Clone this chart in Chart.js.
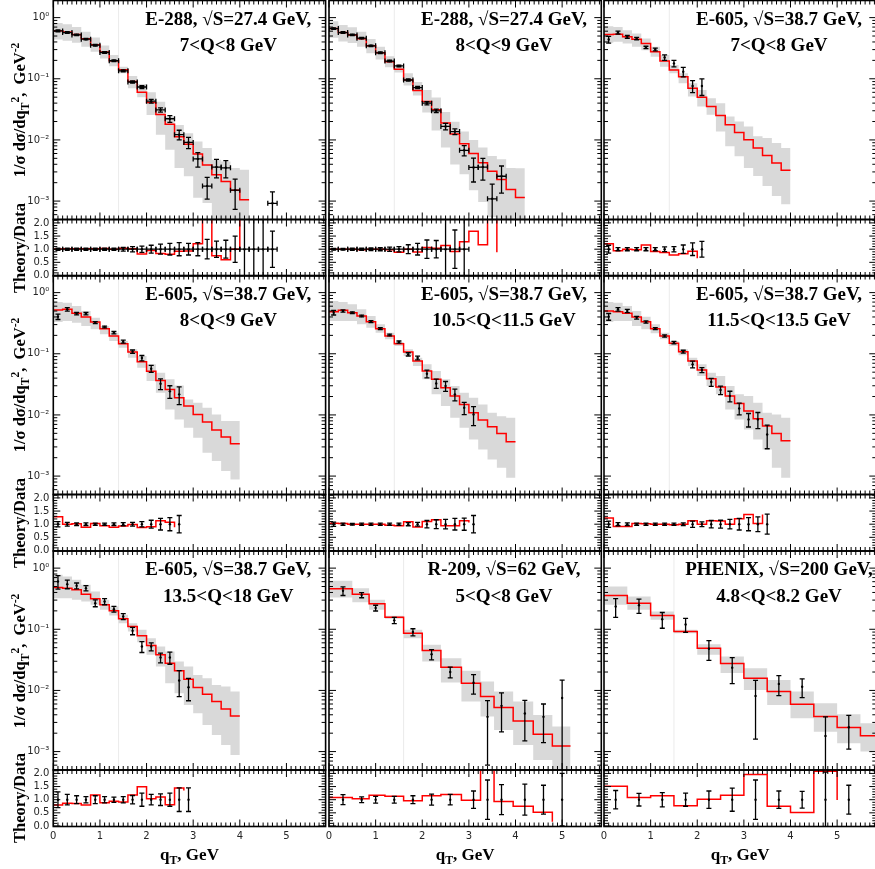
<!DOCTYPE html>
<html>
<head>
<meta charset="utf-8">
<script src="https://cdn.jsdelivr.net/npm/chart.js@4.4.1/dist/chart.umd.min.js"></script>
<style>
  html, body { margin: 0; padding: 0; background: #fff; overflow: hidden; }
  #fig { position: relative; width: 875px; height: 869px; overflow: hidden; }
  #fig canvas { position: absolute; }
  .lbl { position: absolute; font-family: "Liberation Serif", "DejaVu Serif", serif; font-weight: bold; color: #000; white-space: nowrap; }
  .ptitle { width: 300px; text-align: center; font-size: 19px; line-height: 26.7px; }
  .ytitle { font-size: 16.5px; line-height: 18px; transform: translate(-50%, -50%) rotate(-90deg); }
  .xtitle { font-size: 17px; line-height: 17px; transform: translateX(-50%); }
  .lbl sub, .lbl sup { font-size: 70%; line-height: 0; }
</style>
</head>
<body>
<div id="fig"></div>
<script>
// ---------- data ----------
const panelTitleTop = ["E-288, √S=27.4 GeV,", "E-288, √S=27.4 GeV,", "E-605, √S=38.7 GeV,",
  "E-605, √S=38.7 GeV,", "E-605, √S=38.7 GeV,", "E-605, √S=38.7 GeV,",
  "E-605, √S=38.7 GeV,", "R-209, √S=62 GeV,", "PHENIX, √S=200 GeV,"];
const panelTitleBottom = ["7<Q<8 GeV", "8<Q<9 GeV", "7<Q<8 GeV", "8<Q<9 GeV", "10.5<Q<11.5 GeV",
  "11.5<Q<13.5 GeV", "13.5<Q<18 GeV", "5<Q<8 GeV", "4.8<Q<8.2 GeV"];
const seamQ = [1.4, 1.4, 1.4, 1.4, 1.4, 1.4, 1.4, 1.6, 1.5];

const yLogTicks = [0.001, 0.01, 0.1, 1];
const yLogLabels = ["10⁻³", "10⁻²", "10⁻¹", "10⁰"];
const ratioTicks = [0, 0.5, 1, 1.5, 2];
const ratioLabels = ["0.0", "0.5", "1.0", "1.5", "2.0"];
const qTicks = [0, 1, 2, 3, 4, 5];

// theory bin edges
const e288Edges = [0, 0.2, 0.4, 0.6, 0.8, 1.0, 1.2, 1.4, 1.6, 1.8, 2.0, 2.2, 2.4, 2.6, 2.8, 3.0, 3.2, 3.4, 3.6, 3.8, 4.0, 4.2];
const e605Edges = [0, 0.2, 0.4, 0.6, 0.8, 1.0, 1.2, 1.4, 1.6, 1.8, 2.0, 2.2, 2.4, 2.6, 2.8, 3.0, 3.2, 3.4, 3.6, 3.8, 4.0];
const r209Edges = [0, 0.5, 0.86, 1.2, 1.6, 2.0, 2.4, 2.84, 3.25, 3.54, 3.95, 4.38, 4.79, 5.18];
const phenixEdges = [0, 0.5, 1.0, 1.5, 2.0, 2.5, 3.0, 3.5, 4.0, 4.5, 5.0, 5.5, 6.0];

// E-288, 7<Q<8
const e288aTheory = [0.61, 0.58, 0.53, 0.45, 0.36, 0.275, 0.197, 0.14, 0.09, 0.06, 0.041, 0.026, 0.018, 0.0113, 0.0085, 0.0059, 0.0039, 0.0027, 0.0021, 0.0015, 0.00105];
const e288aBandHi = [0.819, 0.779, 0.705, 0.585, 0.473, 0.35, 0.244, 0.158, 0.1107, 0.082, 0.06, 0.0423, 0.0241, 0.0176, 0.0129, 0.00944, 0.00735, 0.00474, 0.00446, 0.00347, 0.00326];
const e288aBandLo = [0.438, 0.417, 0.387, 0.333, 0.276, 0.215, 0.161, 0.123, 0.0697, 0.0497, 0.0256, 0.0121, 0.0069, 0.00347, 0.00254, 0.00113, 0.00093, 0.0005, 0.0004, 0.0003, 0.0002];
const e288aQ = [0.1, 0.3, 0.5, 0.7, 0.9, 1.1, 1.3, 1.5, 1.7, 1.9, 2.1, 2.3, 2.5, 2.7, 2.9, 3.1, 3.3, 3.5, 3.7, 3.9, 4.1, 4.3, 4.5, 4.7];
const e288aVal = [0.607, 0.57, 0.522, 0.444, 0.354, 0.269, 0.197, 0.135, 0.0886, 0.0734, 0.043, 0.031, 0.0222, 0.0122, 0.0091, 0.0049, 0.00176, 0.0036, 0.0035, 0.00151, 0.0002, 0.0002, 0.0002, 0.00092];
const e288aErr = [0.02, 0.018, 0.015, 0.013, 0.011, 0.008, 0.006, 0.005, 0.004, 0.004, 0.003, 0.0025, 0.0028, 0.0022, 0.0019, 0.0013, 0.00068, 0.0012, 0.0011, 0.00078, 0.00025, 0.00025, 0.00025, 0.0005];
const e288aRatioErr = [0.04, 0.04, 0.04, 0.04, 0.04, 0.04, 0.04, 0.07, 0.1, 0.12, 0.15, 0.19, 0.22, 0.25, 0.22, 0.25, 0.37, 0.31, 0.34, 0.5, 1.4, 1.4, 1.4, 0.69];

// E-288, 8<Q<9
const e288bTheory = [0.662, 0.570, 0.522, 0.450, 0.346, 0.266, 0.190, 0.1426, 0.0955, 0.0641, 0.0425, 0.0311, 0.0189, 0.0125, 0.00869, 0.00598, 0.00422, 0.00308, 0.00226, 0.00155, 0.00114];
const e288bBandHi = [0.873, 0.76, 0.696, 0.585, 0.446, 0.335, 0.234, 0.16, 0.123, 0.0885, 0.0658, 0.0493, 0.0286, 0.0198, 0.0138, 0.00995, 0.0075, 0.00548, 0.00484, 0.00347, 0.00345];
const e288bBandLo = [0.468, 0.408, 0.383, 0.333, 0.262, 0.207, 0.154, 0.127, 0.0776, 0.0533, 0.0281, 0.0142, 0.00752, 0.00395, 0.00275, 0.0015, 0.00097, 0.00055, 0.00028, 0.00016, 0.00011];
const e288bQ = [0.1, 0.3, 0.5, 0.7, 0.9, 1.1, 1.3, 1.5, 1.7, 1.9, 2.1, 2.3, 2.5, 2.7, 2.9, 3.1, 3.3, 3.5, 3.7];
const e288bVal = [0.662, 0.570, 0.522, 0.461, 0.346, 0.266, 0.195, 0.162, 0.0955, 0.0718, 0.0399, 0.0299, 0.0166, 0.0137, 0.00677, 0.00355, 0.0036, 0.00109, 0.00255];
const e288bErr = [0.02, 0.017, 0.015, 0.013, 0.01, 0.008, 0.006, 0.005, 0.004, 0.003, 0.0025, 0.002, 0.002, 0.0015, 0.0013, 0.0015, 0.0014, 0.0008, 0.0012];
const e288bRatioErr = [0.03, 0.03, 0.04, 0.04, 0.05, 0.06, 0.08, 0.1, 0.17, 0.22, 0.35, 0.33, 1.3, 0.73, 1.2];

// E-605, 7<Q<8
const e605aTheory = [0.529, 0.535, 0.485, 0.444, 0.3776, 0.2763, 0.1949, 0.139, 0.1083, 0.07, 0.0499, 0.0352, 0.0251, 0.0177, 0.01329, 0.0101, 0.0074, 0.00555, 0.00421, 0.0032];
const e605aBandHi = [0.723, 0.705, 0.622, 0.549, 0.455, 0.333, 0.2438, 0.1677, 0.1227, 0.0844, 0.0657, 0.0481, 0.0399, 0.0242, 0.0201, 0.01664, 0.01144, 0.01075, 0.00891, 0.0074];
const e605aBandLo = [0.387, 0.402, 0.378, 0.333, 0.294, 0.229, 0.1575, 0.1227, 0.0844, 0.0512, 0.0352, 0.0258, 0.0138, 0.00787, 0.00541, 0.00349, 0.00256, 0.00176, 0.00121, 0.000885];
const e605aQ = [0.1, 0.3, 0.5, 0.7, 0.9, 1.1, 1.3, 1.5, 1.7, 1.9, 2.1];
const e605aVal = [0.439, 0.570, 0.485, 0.455, 0.325, 0.3015, 0.2235, 0.1785, 0.1306, 0.0763, 0.0763];
const e605aErr = [0.055, 0.03, 0.025, 0.02, 0.015, 0.015, 0.023, 0.022, 0.023, 0.017, 0.023];
const e605aRatioErr = [0.15, 0.06, 0.06, 0.06, 0.06, 0.06, 0.09, 0.1, 0.16, 0.24, 0.3];

// E-605, 8<Q<9
const e605bTheory = [0.5203, 0.534, 0.4588, 0.3997, 0.3311, 0.2575, 0.1953, 0.1463, 0.1069, 0.0743, 0.0516, 0.0367, 0.02617, 0.01912, 0.01397, 0.0102, 0.00764, 0.00565, 0.00434, 0.00338];
const e605bBandHi = [0.7035, 0.686, 0.605, 0.501, 0.39, 0.2847, 0.2215, 0.1618, 0.1182, 0.0919, 0.0671, 0.049, 0.0382, 0.0302, 0.01795, 0.01584, 0.0131, 0.0102, 0.00794, 0.00794];
const e605bBandLo = [0.331, 0.344, 0.323, 0.2847, 0.2511, 0.208, 0.1618, 0.1259, 0.0864, 0.0592, 0.0358, 0.0231, 0.01232, 0.00845, 0.00617, 0.00423, 0.0024, 0.00176, 0.00121, 0.00088];
const e605bQ = [0.1, 0.3, 0.5, 0.7, 0.9, 1.1, 1.3, 1.5, 1.7, 1.9, 2.1, 2.3, 2.5, 2.7];
const e605bVal = [0.4046, 0.5336, 0.453, 0.453, 0.323, 0.2742, 0.2215, 0.1578, 0.1082, 0.0852, 0.057, 0.0324, 0.0243, 0.0217];
const e605bErr = [0.041, 0.035, 0.02, 0.02, 0.012, 0.01, 0.01, 0.009, 0.007, 0.0085, 0.0075, 0.0065, 0.0057, 0.007];
const e605bRatioErr = [0.1, 0.07, 0.05, 0.05, 0.04, 0.04, 0.05, 0.06, 0.07, 0.1, 0.15, 0.22, 0.25, 0.33];

// E-605, 10.5<Q<11.5
const e605cTheory = [0.4887, 0.514, 0.4707, 0.415, 0.3352, 0.2575, 0.1953, 0.1463, 0.1069, 0.0761, 0.0522, 0.0382, 0.0279, 0.0204, 0.01487, 0.01086, 0.00824, 0.00641, 0.00499, 0.00364];
const e605cBandHi = [0.7306, 0.7035, 0.6442, 0.5336, 0.415, 0.3032, 0.2215, 0.1558, 0.1182, 0.0864, 0.0671, 0.0522, 0.0382, 0.0297, 0.0231, 0.01912, 0.01487, 0.01086, 0.0095, 0.009];
const e605cBandLo = [0.3438, 0.3438, 0.3438, 0.3032, 0.2674, 0.2215, 0.1722, 0.134, 0.0919, 0.0631, 0.0382, 0.0217, 0.01397, 0.009, 0.00617, 0.00398, 0.00273, 0.00187, 0.00137, 0.000938];
const e605cQ = [0.1, 0.3, 0.5, 0.7, 0.9, 1.1, 1.3, 1.5, 1.7, 1.9, 2.1, 2.3, 2.5, 2.7, 2.9, 3.1];
const e605cVal = [0.4707, 0.501, 0.4707, 0.415, 0.3352, 0.2575, 0.2028, 0.1558, 0.0979, 0.0852, 0.0472, 0.0328, 0.0297, 0.0217, 0.0131, 0.0102];
const e605cErr = [0.04, 0.02, 0.015, 0.015, 0.012, 0.009, 0.007, 0.006, 0.006, 0.006, 0.0069, 0.0056, 0.0055, 0.0047, 0.003, 0.0035];
const e605cRatioErr = [0.08, 0.04, 0.03, 0.04, 0.04, 0.04, 0.04, 0.04, 0.06, 0.07, 0.14, 0.17, 0.18, 0.22, 0.23, 0.33];

// E-605, 11.5<Q<13.5
const e605dTheory = [0.501, 0.4887, 0.4588, 0.3997, 0.3352, 0.2575, 0.1953, 0.1482, 0.1082, 0.0761, 0.0542, 0.0391, 0.0286, 0.0204, 0.01545, 0.01157, 0.00867, 0.00659, 0.00499, 0.00378];
const e605dBandHi = [0.7035, 0.686, 0.605, 0.501, 0.4046, 0.3032, 0.2215, 0.1618, 0.1182, 0.0864, 0.0671, 0.049, 0.0433, 0.0297, 0.0217, 0.0204, 0.01584, 0.01086, 0.0102, 0.009];
const e605dBandLo = [0.331, 0.3438, 0.3438, 0.2847, 0.2511, 0.216, 0.1722, 0.134, 0.0943, 0.0631, 0.0433, 0.0297, 0.0217, 0.01232, 0.00845, 0.0058, 0.00398, 0.00273, 0.00137, 0.000938];
const e605dQ = [0.1, 0.3, 0.5, 0.7, 0.9, 1.1, 1.3, 1.5, 1.7, 1.9, 2.1, 2.3, 2.5, 2.7, 2.9, 3.1, 3.3, 3.5];
const e605dVal = [0.4046, 0.5336, 0.501, 0.39, 0.3311, 0.2575, 0.1953, 0.152, 0.1082, 0.0671, 0.0542, 0.0345, 0.0255, 0.0204, 0.0128, 0.00845, 0.00845, 0.0048];
const e605dErr = [0.051, 0.035, 0.03, 0.02, 0.015, 0.01, 0.008, 0.007, 0.006, 0.0085, 0.005, 0.0052, 0.004, 0.004, 0.0028, 0.0021, 0.0025, 0.002];
const e605dRatioErr = [0.12, 0.06, 0.05, 0.04, 0.04, 0.04, 0.04, 0.04, 0.05, 0.12, 0.09, 0.14, 0.15, 0.18, 0.22, 0.25, 0.28, 0.38];

// E-605, 13.5<Q<18
const e605eTheory = [0.4826, 0.4707, 0.4418, 0.3754, 0.3148, 0.2511, 0.2003, 0.1482, 0.111, 0.0781, 0.0542, 0.0382, 0.0279, 0.0209, 0.01525, 0.01114, 0.00867, 0.00659, 0.00499, 0.00383];
const e605eBandHi = [0.778, 0.7306, 0.6442, 0.5336, 0.415, 0.3032, 0.2358, 0.1722, 0.1259, 0.0979, 0.0715, 0.0522, 0.0433, 0.0297, 0.0247, 0.01795, 0.01584, 0.01232, 0.01157, 0.00958];
const e605eBandLo = [0.323, 0.323, 0.3032, 0.2847, 0.2511, 0.208, 0.168, 0.1259, 0.0919, 0.0614, 0.0382, 0.0247, 0.0131, 0.009, 0.0058, 0.00423, 0.00273, 0.00187, 0.00128, 0.00088];
const e605eQ = [0.1, 0.3, 0.5, 0.7, 0.9, 1.1, 1.3, 1.5, 1.7, 1.9, 2.1, 2.3, 2.5, 2.7, 2.9];
const e605eVal = [0.605, 0.547, 0.514, 0.4707, 0.2674, 0.2847, 0.2133, 0.1618, 0.0943, 0.0522, 0.0522, 0.0345, 0.0345, 0.0145, 0.01128];
const e605eErr = [0.15, 0.087, 0.057, 0.047, 0.034, 0.033, 0.023, 0.018, 0.013, 0.0105, 0.0077, 0.0063, 0.0077, 0.0066, 0.0045];
const e605eRatioErr = [0.3, 0.2, 0.15, 0.12, 0.15, 0.12, 0.1, 0.12, 0.16, 0.25, 0.2, 0.22, 0.25, 0.45, 0.45];

// R-209, 5<Q<8
const r209Theory = [0.4588, 0.3754, 0.2608, 0.1578, 0.0864, 0.0449, 0.024, 0.0131, 0.00794, 0.00524, 0.00317, 0.00192, 0.00124];
const r209BandHi = [0.6203, 0.4707, 0.3032, 0.1659, 0.0979, 0.0556, 0.0337, 0.0209, 0.01397, 0.00958, 0.00659, 0.00398, 0.00256];
const r209BandLo = [0.331, 0.2777, 0.208, 0.1482, 0.0715, 0.0297, 0.01345, 0.00659, 0.00374, 0.00226, 0.00128, 0.00073, 0.0004];
const r209Q = [0.3, 0.7, 1.0, 1.4, 1.8, 2.2, 2.6, 3.1, 3.4, 3.7, 4.2, 4.6, 5.0];
const r209Val = [0.425, 0.362, 0.223, 0.14, 0.09, 0.039, 0.02, 0.0134, 0.0037, 0.0056, 0.0042, 0.0037, 0.0075];
const r209Err = [0.068, 0.034, 0.024, 0.016, 0.012, 0.0075, 0.004, 0.0047, 0.0031, 0.0035, 0.0027, 0.0023, 0.0072];
const r209RatioErr = [0.19, 0.11, 0.13, 0.13, 0.15, 0.21, 0.2, 0.33, 0.75, 0.57, 0.59, 0.55, 1.0];

// PHENIX, 4.8<Q<8.2
const phenixTheory = [0.3569, 0.2674, 0.168, 0.0919, 0.049, 0.0275, 0.01584, 0.00958, 0.00594, 0.00374, 0.00247, 0.00182];
const phenixBandHi = [0.501, 0.3438, 0.1953, 0.0979, 0.057, 0.0358, 0.0231, 0.01487, 0.00958, 0.00617, 0.00408, 0.0029];
const phenixBandLo = [0.2511, 0.208, 0.1427, 0.0864, 0.0382, 0.0192, 0.0102, 0.0058, 0.00351, 0.00212, 0.00137, 0.001];
const phenixQ = [0.25, 0.75, 1.25, 1.75, 2.25, 2.75, 3.25, 3.75, 4.25, 4.75, 5.25];
const phenixVal = [0.236, 0.247, 0.146, 0.12, 0.048, 0.0236, 0.0081, 0.0128, 0.0115, 0.0018, 0.0025];
const phenixErr = [0.08, 0.065, 0.042, 0.031, 0.017, 0.0107, 0.0065, 0.0046, 0.0039, 0.0019, 0.0014];
const phenixRatioErr = [0.35, 0.24, 0.27, 0.25, 0.33, 0.44, 0.75, 0.33, 0.32, 1.05, 0.55];

const panels = [
  { edges: e288Edges, theory: e288aTheory, lo: e288aBandLo, hi: e288aBandHi, q: e288aQ, val: e288aVal, err: e288aErr, rerr: e288aRatioErr, xerr: 0.1 },
  { edges: e288Edges, theory: e288bTheory, lo: e288bBandLo, hi: e288bBandHi, q: e288bQ, val: e288bVal, err: e288bErr, rerr: e288bRatioErr, xerr: 0.1 },
  { edges: e605Edges, theory: e605aTheory, lo: e605aBandLo, hi: e605aBandHi, q: e605aQ, val: e605aVal, err: e605aErr, rerr: e605aRatioErr, xerr: 0 },
  { edges: e605Edges, theory: e605bTheory, lo: e605bBandLo, hi: e605bBandHi, q: e605bQ, val: e605bVal, err: e605bErr, rerr: e605bRatioErr, xerr: 0 },
  { edges: e605Edges, theory: e605cTheory, lo: e605cBandLo, hi: e605cBandHi, q: e605cQ, val: e605cVal, err: e605cErr, rerr: e605cRatioErr, xerr: 0 },
  { edges: e605Edges, theory: e605dTheory, lo: e605dBandLo, hi: e605dBandHi, q: e605dQ, val: e605dVal, err: e605dErr, rerr: e605dRatioErr, xerr: 0 },
  { edges: e605Edges, theory: e605eTheory, lo: e605eBandLo, hi: e605eBandHi, q: e605eQ, val: e605eVal, err: e605eErr, rerr: e605eRatioErr, xerr: 0 },
  { edges: r209Edges, theory: r209Theory, lo: r209BandLo, hi: r209BandHi, q: r209Q, val: r209Val, err: r209Err, rerr: r209RatioErr, xerr: 0 },
  { edges: phenixEdges, theory: phenixTheory, lo: phenixBandLo, hi: phenixBandHi, q: phenixQ, val: phenixVal, err: phenixErr, rerr: phenixRatioErr, xerr: 0 }
];

// ---------- layout ----------
const colX = [53.3, 329, 604];
const rowY = [0.5, 275.5, 551];
const PW = 272.3, MH = 219, RH = 56.5, XAXH = 20;
const X_MAX = 5.84, LOG_MIN = 5.0e-4, LOG_MAX = 1.905, R_MIN = -0.02, R_MAX = 2.13;
const BAND_COLOR = "#d9d9d9", THEORY_COLOR = "#ff0000";

Chart.defaults.font.family = '"DejaVu Sans", sans-serif';
Chart.defaults.font.size = 10;
Chart.defaults.color = "#262626";

const fig = document.getElementById("fig");

// inward tick marks + frame, drawn from the chart's own scales
const framePlugin = {
  id: "frame",
  beforeDatasetsDraw(chart, args, opts) {
    if (opts.seam == null) return;
    const { ctx, chartArea: a, scales: { x } } = chart;
    const px = x.getPixelForValue(opts.seam);
    ctx.save();
    ctx.strokeStyle = "#ebebeb";
    ctx.lineWidth = 1;
    ctx.beginPath(); ctx.moveTo(px, a.top); ctx.lineTo(px, a.bottom); ctx.stroke();
    ctx.restore();
  },
  afterDraw(chart, args, opts) {
    const { ctx, chartArea: a, scales: { x, y } } = chart;
    ctx.save();
    ctx.strokeStyle = "#000";
    ctx.lineWidth = 1;
    ctx.beginPath();
    for (let k = 0; k / 10 <= x.max; k++) {
      const px = x.getPixelForValue(k / 10), len = k % 10 === 0 ? 7 : 4;
      ctx.moveTo(px, a.top); ctx.lineTo(px, a.top + len);
      ctx.moveTo(px, a.bottom); ctx.lineTo(px, a.bottom - len);
    }
    for (const [v, major] of opts.yTicks) {
      const py = y.getPixelForValue(v), len = major ? 7 : 4;
      ctx.moveTo(a.left, py); ctx.lineTo(a.left + len, py);
      ctx.moveTo(a.right, py); ctx.lineTo(a.right - len, py);
    }
    ctx.stroke();
    ctx.lineWidth = 1.6;
    ctx.strokeRect(a.left, a.top, a.right - a.left, a.bottom - a.top);
    ctx.restore();
  }
};

// error bars for datasets flagged with errorBars
const errorBarPlugin = {
  id: "errorBars",
  afterDatasetsDraw(chart) {
    const { ctx, chartArea: a, scales: { x, y } } = chart;
    const yPix = v => (v > 0 || y.type !== "logarithmic") ? y.getPixelForValue(v) : a.bottom + 40;
    const cap = 2.5;
    ctx.save();
    ctx.beginPath();
    ctx.rect(a.left, a.top, a.right - a.left, a.bottom - a.top);
    ctx.clip();
    ctx.strokeStyle = "#000";
    ctx.lineWidth = 1.3;
    chart.data.datasets.forEach(ds => {
      if (!ds.errorBars) return;
      ds.data.forEach(p => {
        const px = x.getPixelForValue(p.x), py = yPix(p.y);
        const hi = yPix(p.y + p.e), lo = yPix(p.y - p.e);
        ctx.beginPath();
        ctx.moveTo(px, hi); ctx.lineTo(px, lo);
        ctx.moveTo(px - cap, hi); ctx.lineTo(px + cap, hi);
        ctx.moveTo(px - cap, lo); ctx.lineTo(px + cap, lo);
        if (p.xe) {
          const xl = x.getPixelForValue(p.x - p.xe), xr = x.getPixelForValue(p.x + p.xe);
          ctx.moveTo(xl, py); ctx.lineTo(xr, py);
          ctx.moveTo(xl, py - cap); ctx.lineTo(xl, py + cap);
          ctx.moveTo(xr, py - cap); ctx.lineTo(xr, py + cap);
        }
        ctx.stroke();
      });
    });
    ctx.restore();
  }
};

function stepPoints(edges, vals) {
  return edges.map((e, i) => ({ x: e, y: vals[Math.min(i, vals.length - 1)] }));
}

// theory / data per bin, drawn as post-steps ending at the last bin start
function ratioPoints(p) {
  const pts = [];
  for (let i = 0; i < p.theory.length; i++) {
    const j = p.q.findIndex(q => q > p.edges[i] && q < p.edges[i + 1]);
    if (j < 0) continue;
    pts.push({ x: p.edges[i], y: p.theory[i] / p.val[j] });
  }
  return pts;
}

function logTickList() {
  const t = [];
  for (let d = -4; d <= 0; d++) {
    for (let m = 1; m <= 9; m++) {
      const v = m * Math.pow(10, d);
      if (v >= LOG_MIN && v <= LOG_MAX) t.push([v, m === 1]);
    }
  }
  return t;
}

function ratioTickList() {
  const t = [];
  for (let k = 0; k <= 21; k++) t.push([k / 10, k % 5 === 0]);
  return t;
}

// scale hook: fixed axis size, no label overhang padding
function fixSize(prop, size) {
  return s => {
    s[prop] = size;
    s.paddingTop = 0; s.paddingBottom = 0; s.paddingLeft = 0; s.paddingRight = 0;
  };
}

function makeChart(area, opts) {
  const left = Math.max(0, Math.floor(area.x - opts.padL));
  const top = Math.max(0, Math.floor(area.y - 2));
  const right = Math.ceil(area.x + area.w + 2);
  const bottom = Math.ceil(area.y + area.h + 2 + (opts.showX ? XAXH : 0));
  const cv = document.createElement("canvas");
  cv.width = right - left;
  cv.height = bottom - top;
  cv.style.left = left + "px";
  cv.style.top = top + "px";
  fig.appendChild(cv);

  const yAxW = opts.showY ? area.x - left : 0;
  const xAxH = opts.showX ? XAXH : 0;
  const padding = {
    left: area.x - left - yAxW,
    top: area.y - top,
    right: right - (area.x + area.w),
    bottom: bottom - (area.y + area.h) - xAxH
  };

  new Chart(cv, {
    type: "line",
    data: { datasets: opts.datasets },
    options: {
      responsive: false,
      animation: false,
      devicePixelRatio: 1,
      events: [],
      layout: { padding, autoPadding: false },
      plugins: {
        legend: { display: false },
        tooltip: { enabled: false },
        frame: { yTicks: opts.yTickList, seam: opts.seam }
      },
      scales: {
        x: {
          type: "linear", min: 0, max: X_MAX, display: opts.showX,
          grid: { display: false, drawTicks: false }, border: { display: false },
          afterBuildTicks: s => { s.ticks = qTicks.map(v => ({ value: v })); },
          afterFit: fixSize("height", xAxH),
          ticks: { autoSkip: false, maxRotation: 0, padding: 4, callback: v => String(v) }
        },
        y: Object.assign({
          display: opts.showY,
          grid: { display: false, drawTicks: false }, border: { display: false },
          afterFit: fixSize("width", yAxW)
        }, opts.yScale)
      }
    },
    plugins: [framePlugin, errorBarPlugin]
  });
}

panels.forEach((p, idx) => {
  const r = Math.floor(idx / 3), c = idx % 3;
  const bandAndLines = [
    { data: stepPoints(p.edges, p.lo), stepped: true, borderWidth: 0, borderColor: "rgba(0,0,0,0)", pointRadius: 0, fill: false, order: 4, clip: 0 },
    { data: stepPoints(p.edges, p.hi), stepped: true, borderWidth: 0, borderColor: "rgba(0,0,0,0)", pointRadius: 0, fill: "-1", backgroundColor: BAND_COLOR, order: 3, clip: 0 },
    { data: stepPoints(p.edges, p.theory), stepped: true, borderColor: THEORY_COLOR, borderWidth: 1.5, pointRadius: 0, fill: false, order: 2, clip: 0 },
    { data: p.q.map((q, i) => ({ x: q, y: p.val[i], e: p.err[i], xe: p.xerr })), showLine: false, pointRadius: 1.2,
      pointBackgroundColor: "#000", pointBorderWidth: 0, errorBars: true, order: 1, clip: 0 }
  ];
  makeChart({ x: colX[c], y: rowY[r], w: PW, h: MH }, {
    padL: c === 0 ? colX[0] : 1, showY: c === 0, showX: false, seam: seamQ[idx],
    yTickList: logTickList(), datasets: bandAndLines,
    yScale: {
      type: "logarithmic", min: LOG_MIN, max: LOG_MAX,
      afterBuildTicks: s => { s.ticks = yLogTicks.map(v => ({ value: v })); },
      ticks: { autoSkip: false, padding: 4, callback: (v, i) => yLogLabels[i] }
    }
  });

  const ratioSet = [
    { data: ratioPoints(p), stepped: true, borderColor: THEORY_COLOR, borderWidth: 1.5, pointRadius: 0, fill: false, order: 2, clip: 0 },
    { data: p.rerr.map((e, i) => ({ x: p.q[i], y: 1, e: e, xe: p.xerr })), showLine: false, pointRadius: 1.2,
      pointBackgroundColor: "#000", pointBorderWidth: 0, errorBars: true, order: 1, clip: 0 }
  ];
  makeChart({ x: colX[c], y: rowY[r] + MH, w: PW, h: RH }, {
    padL: c === 0 ? colX[0] : (r === 2 ? 7 : 1), showY: c === 0, showX: r === 2,
    yTickList: ratioTickList(), datasets: ratioSet,
    yScale: {
      type: "linear", min: R_MIN, max: R_MAX,
      afterBuildTicks: s => { s.ticks = ratioTicks.map(v => ({ value: v })); },
      ticks: { autoSkip: false, padding: 4, callback: (v, i) => ratioLabels[i] }
    }
  });
});

// ---------- text ----------
function addLabel(cls, html, style) {
  const d = document.createElement("div");
  d.className = "lbl " + cls;
  d.innerHTML = html;
  Object.assign(d.style, style);
  fig.appendChild(d);
}

panels.forEach((p, idx) => {
  const r = Math.floor(idx / 3), c = idx % 3;
  const t = document.createElement("div");
  t.className = "lbl ptitle";
  t.style.left = (colX[c] + 175 - 150) + "px";
  t.style.top = (rowY[r] + 5) + "px";
  t.appendChild(document.createTextNode(panelTitleTop[idx]));
  t.appendChild(document.createElement("br"));
  t.appendChild(document.createTextNode(panelTitleBottom[idx]));
  fig.appendChild(t);
});

rowY.forEach(y0 => {
  addLabel("ytitle", "1/σ dσ/dq<sub>T</sub><sup>2</sup>,&nbsp; GeV<sup>-2</sup>", { left: "20px", top: (y0 + MH / 2) + "px" });
  addLabel("ytitle", "Theory/Data", { left: "20px", top: (y0 + MH + RH / 2) + "px" });
});

colX.forEach(x0 => {
  addLabel("xtitle", "q<sub>T</sub>, GeV", { left: (x0 + PW / 2) + "px", top: "846px" });
});
</script>
</body>
</html>
